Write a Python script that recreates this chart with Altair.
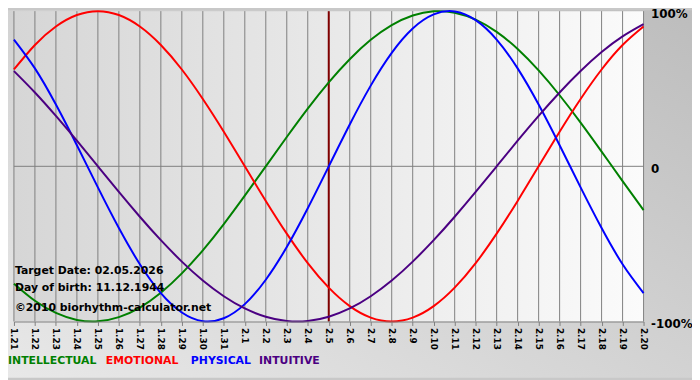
import altair as alt
import pandas as pd

# ---- data ----
dates = ["1.21", "1.22", "1.23", "1.24", "1.25", "1.26", "1.27", "1.28", "1.29", "1.30", "1.31",
         "2.1", "2.2", "2.3", "2.4", "2.5", "2.6", "2.7", "2.8", "2.9", "2.10",
         "2.11", "2.12", "2.13", "2.14", "2.15", "2.16", "2.17", "2.18", "2.19", "2.20"]

intellectual = [-0.756, -0.866, -0.945, -0.990, -0.999, -0.972, -0.910, -0.815, -0.690, -0.541, -0.372,
                -0.189, 0.0, 0.189, 0.372, 0.541, 0.690, 0.815, 0.910, 0.972, 0.999,
                0.990, 0.945, 0.866, 0.756, 0.618, 0.458, 0.282, 0.095, -0.095, -0.282]
emotional = [0.624, 0.782, 0.901, 0.975, 1.0, 0.975, 0.901, 0.782, 0.624, 0.434, 0.223,
             0.0, -0.223, -0.434, -0.624, -0.782, -0.901, -0.975, -1.0, -0.975, -0.901,
             -0.782, -0.624, -0.434, -0.223, 0.0, 0.223, 0.434, 0.624, 0.782, 0.901]
physical = [0.817, 0.631, 0.398, 0.136, -0.136, -0.398, -0.631, -0.817, -0.942, -0.998, -0.979,
            -0.888, -0.731, -0.520, -0.270, 0.0, 0.270, 0.520, 0.731, 0.888, 0.979,
            0.998, 0.942, 0.817, 0.631, 0.398, 0.136, -0.136, -0.398, -0.631, -0.817]
intuitive = [0.614, 0.476, 0.325, 0.165, 0.0, -0.165, -0.325, -0.476, -0.614, -0.736, -0.837,
             -0.916, -0.969, -0.997, -0.997, -0.969, -0.916, -0.837, -0.736, -0.614, -0.476,
             -0.325, -0.165, 0.0, 0.165, 0.325, 0.476, 0.614, 0.736, 0.837, 0.916]

series_names = ["INTELLECTUAL", "EMOTIONAL", "PHYSICAL", "INTUITIVE"]
series_colors = ["#008000", "#ff0000", "#0000ff", "#4b0082"]
target_date = "2.5"
info_lines = ["Target Date: 02.05.2026", "Day of birth: 11.12.1944", "©2010 biorhythm-calculator.net"]
y_ticks = [1, 0, -1]
y_tick_labels = ["100%", "0", "-100%"]

# ---- layout ----
W, H = 637, 314
PAD = {"left": 6, "top": 1, "right": 49, "bottom": 57}
FONT = "DejaVu Sans"
info_y = [263, 280, 300]
legend_x = [-6, 93, 179, 248]
legend_y = 354

# ---- tables ----
values_by_series = [intellectual, emotional, physical, intuitive]
rows = []
for name, vals in zip(series_names, values_by_series):
    for i, v in enumerate(vals):
        rows.append({"i": i, "value": v, "series": name})
df = pd.DataFrame(rows)
grid_df = pd.DataFrame({"i": list(range(len(dates)))})
target_df = pd.DataFrame({"i": [dates.index(target_date)]})
zero_df = pd.DataFrame({"value": [0]})
one = pd.DataFrame({"a": [0]})

label_arr = "[" + ",".join("'" + d + "'" for d in dates) + "]"
y_expr = " : ".join(
    f"datum.value == {v} ? '{l}'" for v, l in zip(y_ticks[:-1], y_tick_labels[:-1])
) + f" : '{y_tick_labels[-1]}'"

X = alt.X("i:Q",
          scale=alt.Scale(domain=[0, len(dates) - 1], nice=False, zero=False),
          axis=alt.Axis(values=list(range(len(dates))), labelExpr=label_arr + "[datum.value]",
                        labelAngle=90, labelFlush=False, grid=False, title=None,
                        domainColor="#808080", tickColor="#808080", tickSize=4,
                        labelFont=FONT, labelFontSize=9, labelFontWeight="bold",
                        labelColor="#000000", labelPadding=2, zindex=1))
Y = alt.Y("value:Q",
          scale=alt.Scale(domain=[-1, 1], nice=False, zero=False),
          axis=alt.Axis(orient="right", values=y_ticks, labelExpr=y_expr, grid=False,
                        domain=False, ticks=False, title=None, labelFlush=False,
                        labelFont=FONT, labelFontSize=12, labelFontWeight="bold",
                        labelColor="#000000", labelPadding=7, labelOffset=2,
                        labelAlign="left", zindex=1))

outer_grad = alt.Gradient(gradient="linear", x1=0, y1=1, x2=1, y2=0,
                          stops=[alt.GradientStop(color="#e8e8e8", offset=0),
                                 alt.GradientStop(color="#bdbdbd", offset=1)])
plot_grad = alt.Gradient(gradient="linear", x1=0, y1=0.5, x2=1, y2=0.5,
                         stops=[alt.GradientStop(color="#d6d6d6", offset=0),
                                alt.GradientStop(color="#fbfbfb", offset=1)])

bg_outer = alt.Chart(one).mark_rect(color=outer_grad).encode(
    x=alt.value(-PAD["left"]), x2=alt.value(W + PAD["right"]),
    y=alt.value(-PAD["top"]), y2=alt.value(H + PAD["bottom"]))
bg_plot = alt.Chart(one).mark_rect(color=plot_grad).encode(
    x=alt.value(0), x2=alt.value(W), y=alt.value(0), y2=alt.value(H))

grid = alt.Chart(grid_df).mark_rule(color="#808080", strokeWidth=1).encode(x=X)
zero = alt.Chart(zero_df).mark_rule(color="#808080", strokeWidth=1).encode(y=Y)
target = alt.Chart(target_df).mark_rule(color="#800000", strokeWidth=2).encode(x=X)

lines = alt.Chart(df).mark_line(strokeWidth=2, interpolate="natural").encode(
    x=X, y=Y,
    color=alt.Color("series:N", scale=alt.Scale(domain=series_names, range=series_colors), legend=None),
)

layers = [bg_outer, bg_plot, grid, zero, target, lines]
for txt, yy in zip(info_lines, info_y):
    layers.append(alt.Chart(one).mark_text(
        text=txt, align="left", baseline="middle", font=FONT, fontSize=11,
        fontWeight="bold", color="#000000").encode(x=alt.value(1), y=alt.value(yy)))
for name, col, xx in zip(series_names, series_colors, legend_x):
    layers.append(alt.Chart(one).mark_text(
        text=name, align="left", baseline="middle", font=FONT, fontSize=11,
        fontWeight="bold", color=col).encode(x=alt.value(xx), y=alt.value(legend_y)))

chart = alt.layer(*layers).properties(
    width=W, height=H, padding=PAD,
    autosize=alt.AutoSizeParams(type="none"),
    background="#c8c8c8",
).configure_view(stroke=None)

chart.save("out.html", embed_options={"renderer": "svg", "actions": False})
